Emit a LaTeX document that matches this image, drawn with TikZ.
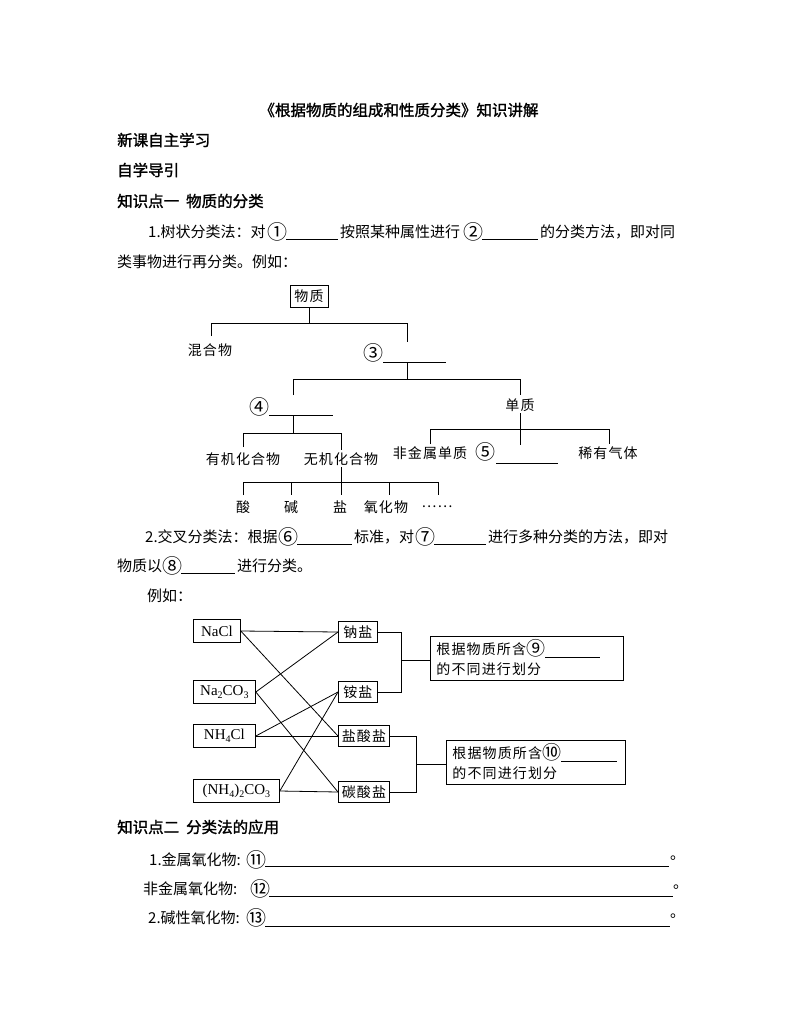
\documentclass[tikz,border=0pt]{standalone}
\usepackage{fontspec}
\setmainfont{Noto Sans CJK SC}
\newfontfamily\hei{Noto Sans CJK SC}[FakeBold=1.5]
\newfontfamily\song{Noto Sans CJK SC}[LetterSpace=8]
\newfontfamily\cnf{Noto Sans CJK SC}
\newfontfamily\tnr{Liberation Serif}
\newcommand\cn[1]{\raisebox{-1pt}{\fontsize{19}{19}\cnf #1}}
\newcommand\chsub[1]{\raisebox{-3pt}{\fontsize{10}{10}\selectfont #1}}
\newcommand\blank[1]{\rule[-3pt]{#1}{0.7pt}}
\tikzset{
  txt/.style={inner sep=0pt, anchor=west, font=\fontsize{15}{15}\selectfont},
  cnum/.style={inner sep=0pt, anchor=center, font=\fontsize{20}{20}\selectfont\cnf},
  hd/.style={inner sep=0pt, anchor=west, font=\fontsize{15.5}{15.5}\selectfont\hei},
  lab/.style={inner sep=0pt, font=\fontsize{14}{14}\selectfont\song},
  ln/.style={line width=0.8pt},
  fbox/.style={draw, line width=0.8pt, inner sep=0pt, minimum height=23pt, anchor=west, font=\fontsize{15}{15}\selectfont\tnr},
  cbox/.style={draw, line width=0.8pt, inner sep=0pt, minimum height=21pt, anchor=west, font=\fontsize{14}{14}\selectfont\song},
  nbox/.style={draw, line width=0.8pt, anchor=west, inner ysep=0pt, inner xsep=6pt, minimum height=44pt, align=left, font=\fontsize{14}{20}\selectfont\song},
}
\begin{document}
\begin{tikzpicture}[x=1pt,y=-1pt]
\useasboundingbox (0,0) rectangle (794,1028);
% ---------- header ----------
\node[inner sep=0pt, font=\fontsize{15.5}{15.5}\selectfont\hei] (title) at (399,110) {《根据物质的组成和性质分类》知识讲解};
\node[hd] (h1) at (117,140) {新课自主学习};
\node[hd] (h2) at (117,170) {自学导引};
\node[hd] (h3) at (117,201) {知识点一\ \ 物质的分类};
% line 1
\node[txt] (t1a) at (148,232) {1.树状分类法：对};
\node[cnum] (c1) at (277,232) {①};
\draw[ln] (286,239) -- (338,239);
\node[txt] (t1b) at (340,232) {按照某种属性进行};
\node[cnum] (c2) at (473,232) {②};
\draw[ln] (482,239) -- (538,239);
\node[txt] (t1c) at (540,232) {的分类方法，即对同};
\node[txt] (t2) at (117,262) {类事物进行再分类。例如：};
% ---------- tree ----------
\node[draw, line width=0.8pt, inner sep=0pt, minimum width=38pt, minimum height=22pt, font=\fontsize{14}{14}\selectfont\song] (wz) at (309,296) {物质};
\node[lab] (hhw) at (210,350) {混合物};
\node[cnum] (n3) at (373,353) {③};
\node[lab] (dz) at (520,405) {单质};
\node[cnum] (n4) at (259,407) {④};
\node[lab] (yj) at (243,459) {有机化合物};
\node[lab] (wj) at (341,459) {无机化合物};
\node[lab] (fjs) at (430,453) {非金属单质};
\node[cnum] (n5) at (485,452) {⑤};
\node[lab] (xy) at (608,453) {稀有气体};
\node[lab] (suan) at (243,507) {酸};
\node[lab] (jian) at (291,507) {碱};
\node[lab] (yan) at (340,507) {盐};
\node[lab] (yhw) at (386,507) {氧化物};
\node[lab] (dots) at (437,507) {……};
\draw[ln] (wz.south) -- (309,323);
\draw[ln] (211,336) -- (211,323) -- (407,323) -- (407,342);
\draw[ln] (383,362) -- (446,362);
\draw[ln] (407,362) -- (407,379);
\draw[ln] (293,395) -- (293,379) -- (520,379) -- (520,395);
\draw[ln] (269,415) -- (333,415);
\draw[ln] (293,415) -- (293,433);
\draw[ln] (243,447) -- (243,433) -- (341,433) -- (341,450);
\draw[ln] (341,467) -- (341,495);
\draw[ln] (243,495) -- (243,482) -- (438,482) -- (438,495);
\draw[ln] (291,482) -- (291,495);
\draw[ln] (389,482) -- (389,495);
\draw[ln] (520,413) -- (520,445);
\draw[ln] (430,444) -- (430,429) -- (609,429) -- (609,444);
\draw[ln] (496,463) -- (558,463);
% ---------- cross classification ----------
\node[txt] (t3a) at (145,537) {2.交叉分类法：根据};
\node[cnum] (c6) at (288,537) {⑥};
\draw[ln] (297,544) -- (352,544);
\node[txt] (t3b) at (354,537) {标准，对};
\node[cnum] (c7) at (425,537) {⑦};
\draw[ln] (434,544) -- (486,544);
\node[txt] (t3c) at (488,537) {进行多种分类的方法，即对};
\node[txt] (t4a) at (117,566) {物质以};
\node[cnum] (c8) at (172,566) {⑧};
\draw[ln] (181,573) -- (235,573);
\node[txt] (t4b) at (237,566) {进行分类。};
\node[txt] (t5) at (147,596) {例如：};
\node[fbox, minimum width=47pt] (nacl) at (193,631) {NaCl};
\node[fbox, minimum width=62pt] (naco) at (193,692) {Na\chsub{2}CO\chsub{3}};
\node[fbox, minimum width=62pt] (nhcl) at (193,736) {NH\chsub{4}Cl};
\node[fbox, minimum width=86pt] (nhco) at (193,791) {(NH\chsub{4})\chsub{2}CO\chsub{3}};
\node[cbox, minimum width=39pt] (na) at (338,632) {钠盐};
\node[cbox, minimum width=39pt] (an) at (338,692) {铵盐};
\node[cbox, minimum width=51pt] (ys) at (338,736) {盐酸盐};
\node[cbox, minimum width=51pt] (ts) at (338,792) {碳酸盐};
\draw[ln] (nacl.east) -- (na.west);
\draw[ln] (nacl.east) -- (ys.west);
\draw[ln] (naco.east) -- (na.west);
\draw[ln] (naco.east) -- (ts.west);
\draw[ln] (nhcl.east) -- (an.west);
\draw[ln] (nhcl.east) -- (ys.west);
\draw[ln] (nhco.east) -- (an.west);
\draw[ln] (nhco.east) -- (ts.west);
\node[nbox, text width=181pt] (b1) at (430,658) {根据物质所含\cn{⑨}\blank{55pt}\\的不同进行划分};
\node[nbox, text width=167pt] (b2) at (446,762) {根据物质所含\cn{⑩}\blank{56pt}\\的不同进行划分};
\draw[ln] (na.east) -- (401,632) -- (401,692) -- (an.east);
\draw[ln] (401,660) -- (b1.west |- 0,660);
\draw[ln] (ys.east) -- (416,736) -- (416,792) -- (ts.east);
\draw[ln] (416,764) -- (b2.west |- 0,764);
% ---------- section 2 ----------
\node[hd] (h4) at (117,827) {知识点二\ \ 分类法的应用};
\node[txt] (l1) at (149,860) {1.金属氧化物:};
\node[cnum] (c11) at (256,860) {⑪};
\draw[ln] (265,866) -- (669,866);
\node[txt] (p1) at (670,858) {。};
\node[txt] (l2) at (143,889) {非金属氧化物:};
\node[cnum] (c12) at (260,889) {⑫};
\draw[ln] (269,896) -- (673,896);
\node[txt] (p2) at (673,887) {。};
\node[txt] (l3) at (148,918) {2.碱性氧化物:};
\node[cnum] (c13) at (256,918) {⑬};
\draw[ln] (265,926) -- (670,926);
\node[txt] (p3) at (670,916) {。};
\end{tikzpicture}
\end{document}
